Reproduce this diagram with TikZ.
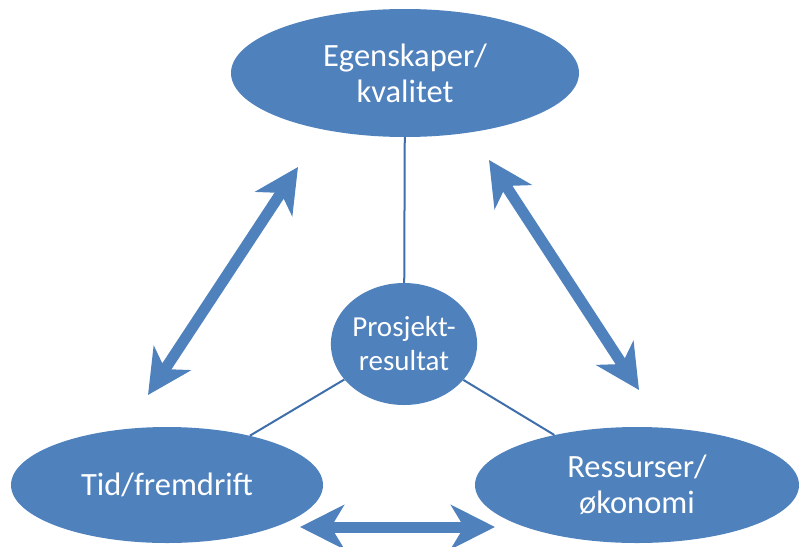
\documentclass[tikz,border=0pt]{standalone}
\usepackage{fontspec}
\setmainfont{Carlito}
\usetikzlibrary{shapes.geometric,arrows.meta}
\definecolor{boksblaa}{HTML}{4F81BD}
\definecolor{linjeblaa}{HTML}{3F6FAA}

\begin{document}
\begin{tikzpicture}[x=1pt,y=-1pt,
    mal/.style={ellipse, fill=boksblaa, text=white, align=center, inner sep=0pt,
      font=\fontsize{32.5}{36}\selectfont},
    pil/.style={boksblaa, line width=11pt,
      {Stealth[length=44pt,width=44pt,inset=13pt]}-{Stealth[length=44pt,width=44pt,inset=13pt]}},
    linje/.style={linjeblaa, line width=2pt}]
  \useasboundingbox (0,0) rectangle (799,546);

  % de fire malene
  \node[mal, minimum width=348pt, minimum height=128pt] (kval) at (405,73) {Egenskaper/\\kvalitet};
  \node[mal, minimum width=142pt, minimum height=122pt,
        font=\fontsize{29}{34}\selectfont] (res) at (404,344) {Prosjekt-\\resultat};
  \node[mal, minimum width=312pt, minimum height=116pt] (tid) at (167,485) {Tid/fremdrift};
  \node[mal, minimum width=324pt, minimum height=116pt] (oko) at (637,485) {Ressurser/\\økonomi};

  % tynne linjer til resultatet
  \draw[linje] (kval) -- (res);
  \draw[linje] (res) -- (tid);
  \draw[linje] (res) -- (oko);

  % piler mellom malene
  \coordinate (pv1) at (298,167);
  \coordinate (pv2) at (148,395);
  \coordinate (ph1) at (489,160);
  \coordinate (ph2) at (639,390);
  \coordinate (pn1) at (300,527);
  \coordinate (pn2) at (495,527);
  \draw[pil] (pv1) -- (pv2);
  \draw[pil] (ph1) -- (ph2);
  \draw[pil] (pn1) -- (pn2);
\end{tikzpicture}
\end{document}
